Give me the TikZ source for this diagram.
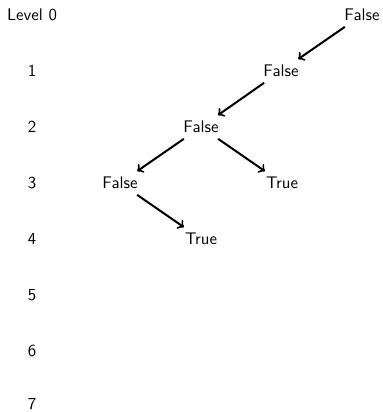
\documentclass[tikz,border=0pt]{standalone}
\usepackage{tikz}
\usetikzlibrary{positioning}

\begin{document}
\begin{tikzpicture}[
    x=0.02089cm, y=-0.02089cm,
    every node/.style={font=\sffamily},
    treeedge/.style={->, very thick}
]
    \useasboundingbox (0,0) rectangle (383,412);

    % Level labels on the left
    \node (lv0) at (32,15) {Level 0};
    \node (lv1) at (32,71) {1};
    \node (lv2) at (32,127) {2};
    \node (lv3) at (32,183) {3};
    \node (lv4) at (32,239) {4};
    \node (lv5) at (32,295) {5};
    \node (lv6) at (32,351) {6};
    \node (lv7) at (32,404) {7};

    % Tree nodes
    \node (root) at (362,15) {False};
    \node (fa) at (281,71) {False};
    \node (fb) at (201,127) {False};
    \node (fc) at (120,183) {False};
    \node (ta) at (282,183) {True};
    \node (tb) at (201,239) {True};

    % Edges
    \draw[treeedge] (root) -- (fa);
    \draw[treeedge] (fa) -- (fb);
    \draw[treeedge] (fb) -- (fc);
    \draw[treeedge] (fb) -- (ta);
    \draw[treeedge] (fc) -- (tb);
\end{tikzpicture}
\end{document}
